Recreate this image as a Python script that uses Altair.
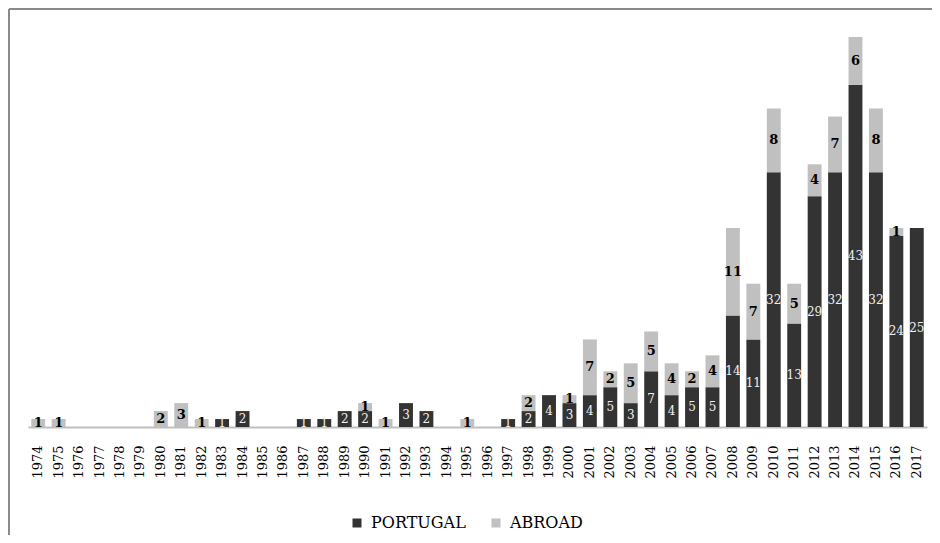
import altair as alt
import pandas as pd

years = list(range(1974, 2018))
portugal = [0, 0, 0, 0, 0, 0, 0, 0, 0, 1, 2, 0, 0, 1, 1, 2, 2, 0, 3, 2, 0, 0,
            0, 1, 2, 4, 3, 4, 5, 3, 7, 4, 5, 5, 14, 11, 32, 13, 29, 32, 43, 32, 24, 25]
abroad = [1, 1, 0, 0, 0, 0, 2, 3, 1, 0, 0, 0, 0, 0, 0, 0, 1, 1, 0, 0, 0, 1,
          0, 0, 2, 0, 1, 7, 2, 5, 5, 4, 2, 4, 11, 7, 8, 5, 4, 7, 6, 8, 1, 0]
series = ["PORTUGAL", "ABROAD"]
colors = ["#333333", "#c0c0c0"]

rows = []
for i, yr in enumerate(years):
    rows.append({"year": str(yr), "series": "PORTUGAL", "value": portugal[i], "ord": 0})
    rows.append({"year": str(yr), "series": "ABROAD", "value": abroad[i], "ord": 1})
df = pd.DataFrame(rows)

FONT = "DejaVu Serif"
year_labels = [str(y) for y in years]

xenc = alt.X(
    "year:N",
    sort=year_labels,
    scale=alt.Scale(paddingInner=0.32, paddingOuter=0.16),
    axis=alt.Axis(
        title=None, labelAngle=-90, ticks=False, domainColor="#bfbfbf",
        domainWidth=2, labelFont=FONT, labelFontSize=13, labelColor="#000000",
        labelPadding=18, grid=False,
    ),
)
yscale = alt.Scale(domain=[0, 50])

base = alt.Chart(df).transform_stack(
    stack="value", groupby=["year"], as_=["v0", "v1"],
    sort=[alt.SortField("ord", order="ascending")],
).transform_calculate(mid="(datum.v0 + datum.v1) / 2")

bars = base.mark_bar().encode(
    x=xenc,
    y=alt.Y("v0:Q", scale=yscale, axis=None),
    y2="v1:Q",
    color=alt.Color(
        "series:N",
        scale=alt.Scale(domain=series, range=colors),
        legend=alt.Legend(
            title=None, orient="none", legendX=321, legendY=486,
            direction="horizontal", symbolType="square", symbolSize=81,
            symbolStrokeWidth=0, labelFont=FONT, labelFontSize=16,
            labelColor="#000000", labelOffset=6, columnPadding=22, padding=0,
        ),
    ),
)

pt_labels = base.transform_filter(
    "datum.series == 'PORTUGAL' && datum.value > 0"
).mark_text(font=FONT, fontSize=12, color="#f0f0f0", baseline="middle").encode(
    x=xenc, y=alt.Y("mid:Q", scale=yscale, axis=None), text="value:Q"
)

ab_labels = base.transform_filter(
    "datum.series == 'ABROAD' && datum.value > 0"
).mark_text(font=FONT, fontSize=13, fontWeight="bold", color="#000000",
            baseline="middle").encode(
    x=xenc, y=alt.Y("mid:Q", scale=yscale, axis=None), text="value:Q"
)

frame_df = pd.DataFrame({"k": [0]})
top_line = alt.Chart(frame_df).mark_rule(color="#8a8a8a", strokeWidth=2).encode(
    x=alt.value(-19), x2=alt.value(910), y=alt.value(-20)
)
left_line = alt.Chart(frame_df).mark_rule(color="#8a8a8a", strokeWidth=2).encode(
    x=alt.value(-19), y=alt.value(-20), y2=alt.value(520)
)

chart = alt.layer(bars, pt_labels, ab_labels, top_line, left_line).properties(
    width=899, height=398,
    autosize=alt.AutoSizeParams(type="none"),
    padding={"left": 20, "top": 21, "right": 5, "bottom": 108},
).configure_view(stroke=None)

chart.save("out.html", embed_options={"renderer": "svg", "actions": False})
